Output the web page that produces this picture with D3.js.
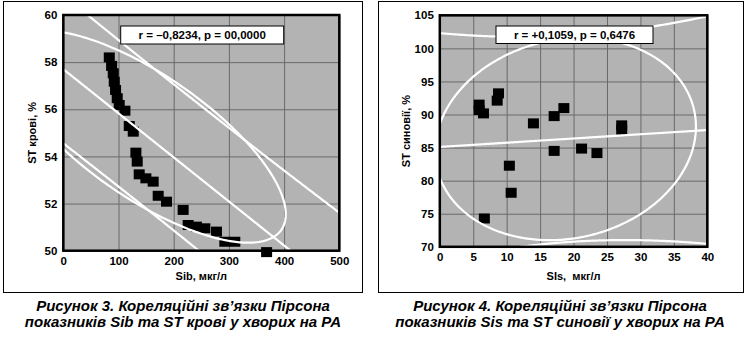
<!DOCTYPE html>
<html><head><meta charset="utf-8">
<script src="https://cdn.jsdelivr.net/npm/d3@7"></script>
<style>
body{margin:0;background:#fff}
svg{display:block}
text{font-family:"Liberation Sans",Arial,Helvetica,sans-serif;font-weight:bold;fill:#000}
.cap{font-family:"Liberation Sans Narrow","Arial Narrow","Liberation Sans",sans-serif;font-style:italic;font-weight:bold}
</style>
</head><body>
<svg id="c" width="748" height="337"></svg>
<script>
// ---------- data ----------
const sibX     = [83.3, 87.5, 90.5, 92.3, 94.7, 97.7, 101.3, 111.6, 119.5, 126.7, 131.5, 133.9, 137.5, 149.6, 162.8, 171.9, 187.0, 217.1, 226.2, 241.3, 256.4, 277.5, 292.6, 310.7, 368.3];
const stBloodY = [58.20, 57.84, 57.53, 57.17, 56.82, 56.47, 56.18, 55.94, 55.29, 55.05, 54.16, 53.78, 53.24, 53.07, 52.93, 52.33, 52.08, 51.73, 51.09, 51.02, 50.95, 50.81, 50.38, 50.38, 49.94];

const sisX   = [5.88, 5.88, 6.53, 8.78, 8.58, 14.0, 17.1, 18.55, 17.1, 21.2, 23.5, 10.4, 10.67, 6.66, 27.2, 27.2];
const stSynY = [91.5, 90.67, 90.17, 93.2, 92.1, 88.66, 89.76, 90.97, 84.5, 84.85, 84.17, 82.26, 78.17, 74.28, 88.36, 87.7];

const leftXTicks  = [0, 100, 200, 300, 400, 500];
const leftYTicks  = [50, 52, 54, 56, 58, 60];
const rightXTicks = [0, 5, 10, 15, 20, 25, 30, 35, 40];
const rightYTicks = [70, 75, 80, 85, 90, 95, 100, 105];

const leftStat  = "r = \u20130,8234, p = 00,0000";
const rightStat = "r = +0,1059, p = 0,6476";

// fitted lines / ellipse parameters (data units)
const leftFit   = {a: 57.7, b: -0.0187, w0: 3.1, xm: 170, L: 1000};
const rightFit  = {a: 85.1, b: 0.0638, w0: 15.6, xm: 20, L: 43};
const leftEll   = {cx: 150, rx: 253, cy: 54.84, ry: 4.5, rho: -0.731};
const rightEll  = {cx: 18.8, rx: 19.5, cy: 86.3, ry: 15.3, rho: 0.122};

const leftCaption  = ["Рисунок 3. Кореляційні зв’язки Пірсона", "показників Sib та ST крові у хворих на РА"];
const rightCaption = ["Рисунок 4. Кореляційні зв’язки Пірсона", "показників Sis та ST синовії у хворих на РА"];

// ---------- drawing ----------
const svg = d3.select("#c");

const panels = [
  {id:"L", frame:[3.5,1.5,359,291], px:[63.3,339.3], py:[250.7,15], xd:[0,500], yd:[50,60],
   xt:leftXTicks, yt:leftYTicks, xs:sibX, ys:stBloodY, fit:leftFit, ell:leftEll,
   xlab:"Sib, мкг/л", ylab:"ST крові, %", stat:leftStat, box:[120.7,26,163,18],
   cap:leftCaption, capX:183, ylabX:31.5},
  {id:"R", frame:[378.5,1.5,365,291], px:[439.8,707.3], py:[246.8,15.3], xd:[0,40], yd:[70,105],
   xt:rightXTicks, yt:rightYTicks, xs:sisX, ys:stSynY, fit:rightFit, ell:rightEll,
   xlab:"SIs,  мкг/л", ylab:"ST синовії, %", stat:rightStat, box:[496,26,157,17.5],
   cap:rightCaption, capX:560, ylabX:406}
];

panels.forEach(p => {
  const x = d3.scaleLinear().domain(p.xd).range(p.px);
  const y = d3.scaleLinear().domain(p.yd).range(p.py);
  const g = svg.append("g");

  // outer border
  g.append("rect").attr("x",p.frame[0]).attr("y",p.frame[1]).attr("width",p.frame[2]).attr("height",p.frame[3])
    .attr("fill","none").attr("stroke","#000").attr("stroke-width",1);

  const W = p.px[1]-p.px[0], H = p.py[0]-p.py[1];
  // plot background
  g.append("rect").attr("x",p.px[0]).attr("y",p.py[1]).attr("width",W).attr("height",H).attr("fill","#b3b3b3");

  // clip
  svg.append("clipPath").attr("id","clip"+p.id).append("rect")
    .attr("x",p.px[0]).attr("y",p.py[1]).attr("width",W).attr("height",H);

  // grid
  const gx = g.append("g").attr("transform",`translate(0,${p.py[0]})`)
    .call(d3.axisBottom(x).tickValues(p.xt).tickSize(-H).tickFormat(""));
  const gy = g.append("g").attr("transform",`translate(${p.px[0]},0)`)
    .call(d3.axisLeft(y).tickValues(p.yt).tickSize(-W).tickFormat(""));
  [gx,gy].forEach(a => { a.select(".domain").remove(); a.selectAll("line").attr("stroke","#6a6a6a").attr("stroke-width",1); });

  // tick labels
  const lx = g.append("g").attr("transform",`translate(0,${p.py[0]})`)
    .call(d3.axisBottom(x).tickValues(p.xt).tickSize(0).tickPadding(6).tickFormat(d3.format("d")));
  const ly = g.append("g").attr("transform",`translate(${p.px[0]},0)`)
    .call(d3.axisLeft(y).tickValues(p.yt).tickSize(0).tickPadding(6).tickFormat(d3.format("d")));
  [lx,ly].forEach(a => { a.select(".domain").remove();
    a.selectAll("text").attr("font-family",null).attr("font-size",null).style("font-size","11.5px").style("font-weight","bold").attr("fill","#000"); });

  // points
  const pts = p.xs.map((v,i)=>[v,p.ys[i]]);
  g.append("g").selectAll("rect").data(pts).join("rect")
    .attr("x",d=>x(d[0])-5.5).attr("y",d=>y(d[1])-5).attr("width",11).attr("height",10).attr("fill","#000");

  // lines (clipped)
  const lg = g.append("g").attr("clip-path",`url(#clip${p.id})`);
  const line = d3.line().x(d=>x(d[0])).y(d=>y(d[1]));
  const f = p.fit;
  const xsS = d3.range(0,201).map(i => p.xd[0] + (p.xd[1]-p.xd[0])*i/200);
  const reg = v => f.a + f.b*v;
  const w = v => f.w0*Math.sqrt(1 + Math.pow((v-f.xm)/f.L,2));
  const sty = s => s.attr("fill","none").attr("stroke","#fff").attr("stroke-width",2.2);
  sty(lg.append("path").attr("d", line(xsS.map(v=>[v,reg(v)]))));
  sty(lg.append("path").attr("d", line(xsS.map(v=>[v,reg(v)+w(v)]))));
  sty(lg.append("path").attr("d", line(xsS.map(v=>[v,reg(v)-w(v)]))));
  const e = p.ell, dlt = Math.acos(e.rho);
  const ts = d3.range(0,361).map(i => i/360*2*Math.PI);
  sty(lg.append("path").attr("d", line(ts.map(t=>[e.cx+e.rx*Math.cos(t), e.cy+e.ry*Math.cos(t-dlt)])) + "Z"));

  // frame
  g.append("rect").attr("x",p.px[0]).attr("y",p.py[1]).attr("width",W).attr("height",H)
    .attr("fill","none").attr("stroke","#000").attr("stroke-width",2.5);

  // stat box
  g.append("rect").attr("x",p.box[0]).attr("y",p.box[1]).attr("width",p.box[2]).attr("height",p.box[3])
    .attr("fill","#fff").attr("stroke","#000").attr("stroke-width",1);
  g.append("text").attr("x",p.box[0]+p.box[2]/2).attr("y",p.box[1]+p.box[3]/2+4)
    .attr("text-anchor","middle").style("font-size","11.5px").text(p.stat);

  // axis titles
  g.append("text").attr("x",(p.px[0]+p.px[1])/2).attr("y",279.5).attr("text-anchor","middle")
    .style("font-size","11px").style("white-space","pre").text(p.xlab);
  g.append("text").attr("transform",`translate(${p.ylabX+4},${(p.py[0]+p.py[1])/2}) rotate(-90)`)
    .attr("text-anchor","middle").style("font-size","11px").text(p.ylab);

  // caption
  p.cap.forEach((c,i) => {
    g.append("text").attr("class","cap").attr("x",p.capX).attr("y",311+i*15.5)
      .attr("text-anchor","middle").style("font-size","15px").text(c);
  });
});
</script>
</body></html>
